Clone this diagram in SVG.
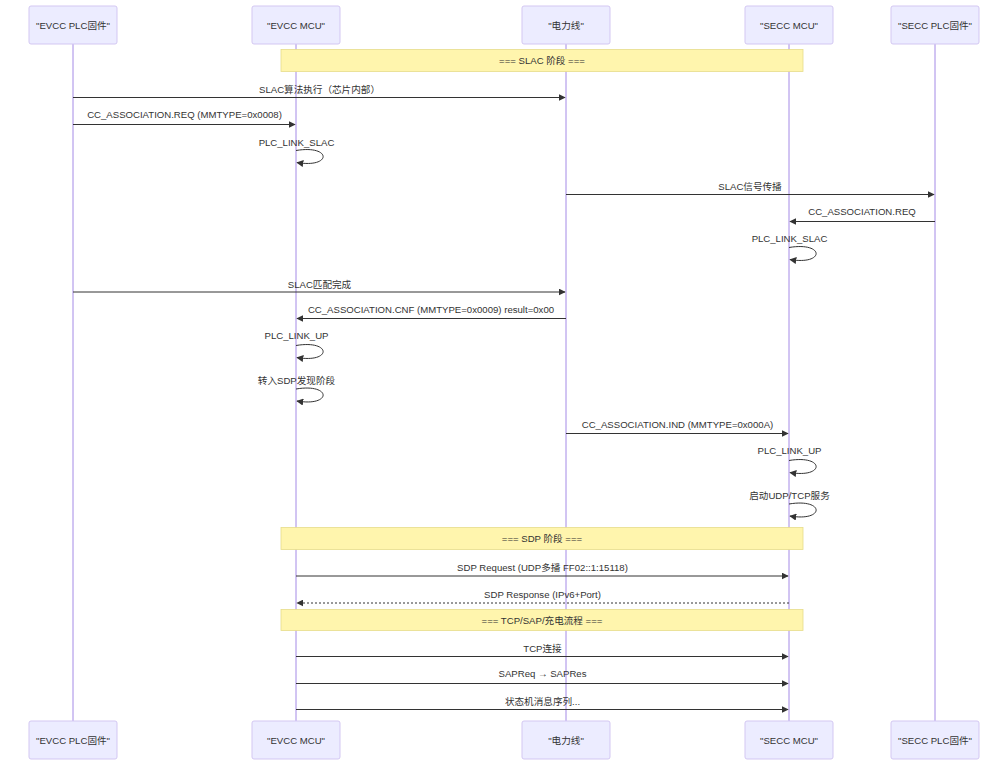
<svg xmlns="http://www.w3.org/2000/svg" width="1008" height="766" viewBox="0 0 1008 766">
<style>
text{font-family:"Liberation Sans","Noto Sans CJK SC",Arial,sans-serif;fill:#333;font-size:9.6px;text-anchor:middle;dominant-baseline:central}
.actor{fill:#ECECFF;stroke:#D3C7F2;stroke-width:1}
.life{stroke:#A48AE6;stroke-width:1}
.msg{stroke:#333;stroke-width:1;fill:none}
.dot{stroke-dasharray:2,2}
.note{fill:#FFF5AD;stroke:#E6DC8A;stroke-width:0.8}
</style>
<defs>
<marker id="ah" markerUnits="userSpaceOnUse" viewBox="0 0 10 10" markerWidth="7" markerHeight="7" refX="9" refY="5" orient="auto">
<path d="M0,0 L10,5 L0,10 z" fill="#333"/>
</marker>
</defs>
<rect width="1008" height="766" fill="#fff"/>
<g id="lifelines">
<line class="life" x1="73" y1="44" x2="73" y2="721"/>
<line class="life" x1="296" y1="44" x2="296" y2="721"/>
<line class="life" x1="566" y1="44" x2="566" y2="721"/>
<line class="life" x1="789" y1="44" x2="789" y2="721"/>
<line class="life" x1="935" y1="44" x2="935" y2="721"/>
</g>
<g id="actor-evcc-plc-top"><rect class="actor" x="29" y="6" width="88" height="38" rx="2"/><text x="73" y="25">"EVCC PLC固件"</text></g>
<g id="actor-evcc-mcu-top"><rect class="actor" x="252" y="6" width="88" height="38" rx="2"/><text x="296" y="25">"EVCC MCU"</text></g>
<g id="actor-powerline-top"><rect class="actor" x="522" y="6" width="88" height="38" rx="2"/><text x="566" y="25">"电力线"</text></g>
<g id="actor-secc-mcu-top"><rect class="actor" x="745" y="6" width="88" height="38" rx="2"/><text x="789" y="25">"SECC MCU"</text></g>
<g id="actor-secc-plc-top"><rect class="actor" x="891" y="6" width="88" height="38" rx="2"/><text x="935" y="25">"SECC PLC固件"</text></g>
<g id="note-slac"><rect class="note" x="281" y="49.5" width="522" height="22"/><text x="542" y="60.5">=== SLAC 阶段 ===</text></g>
<g id="note-sdp"><rect class="note" x="281" y="527.5" width="522" height="22"/><text x="542" y="538.5">=== SDP 阶段 ===</text></g>
<g id="note-tcp"><rect class="note" x="281" y="609.5" width="522" height="21"/><text x="542" y="620">=== TCP/SAP/充电流程 ===</text></g>
<g id="connectors">
<line class="msg" x1="73" y1="97.5" x2="565" y2="97.5" marker-end="url(#ah)"/>
<line class="msg" x1="73" y1="124.5" x2="295" y2="124.5" marker-end="url(#ah)"/>
<path class="msg" d="M296,150.5 C332,144.5 332,168.5 297,162.5" marker-end="url(#ah)"/>
<line class="msg" x1="566" y1="194.5" x2="934" y2="194.5" marker-end="url(#ah)"/>
<line class="msg" x1="935" y1="221.5" x2="790" y2="221.5" marker-end="url(#ah)"/>
<path class="msg" d="M789,247.5 C825,241.5 825,265.5 790,259.5" marker-end="url(#ah)"/>
<line class="msg" x1="73" y1="292" x2="565" y2="292" marker-end="url(#ah)"/>
<line class="msg" x1="566" y1="318.5" x2="297" y2="318.5" marker-end="url(#ah)"/>
<path class="msg" d="M296,345.5 C332,339.5 332,363.5 297,357.5" marker-end="url(#ah)"/>
<path class="msg" d="M296,389 C332,383 332,407 297,401" marker-end="url(#ah)"/>
<line class="msg" x1="566" y1="433.5" x2="788" y2="433.5" marker-end="url(#ah)"/>
<path class="msg" d="M789,460.5 C825,454.5 825,478.5 790,472.5" marker-end="url(#ah)"/>
<path class="msg" d="M789,504 C825,498 825,522 790,516" marker-end="url(#ah)"/>
<line class="msg" x1="296" y1="576" x2="788" y2="576" marker-end="url(#ah)"/>
<line class="msg dot" x1="789" y1="603" x2="297" y2="603" marker-end="url(#ah)"/>
<line class="msg" x1="296" y1="656.5" x2="788" y2="656.5" marker-end="url(#ah)"/>
<line class="msg" x1="296" y1="683.5" x2="788" y2="683.5" marker-end="url(#ah)"/>
<line class="msg" x1="296" y1="709.5" x2="788" y2="709.5" marker-end="url(#ah)"/>
</g>
<g id="labels">
<text x="319.5" y="89">SLAC算法执行（芯片内部）</text>
<text x="184.5" y="114">CC_ASSOCIATION.REQ (MMTYPE=0x0008)</text>
<text x="296.5" y="142">PLC_LINK_SLAC</text>
<text x="750" y="186.5">SLAC信号传播</text>
<text x="862" y="211.5">CC_ASSOCIATION.REQ</text>
<text x="789.5" y="238.5">PLC_LINK_SLAC</text>
<text x="319.5" y="284">SLAC匹配完成</text>
<text x="431" y="309">CC_ASSOCIATION.CNF (MMTYPE=0x0009) result=0x00</text>
<text x="296.5" y="335.5">PLC_LINK_UP</text>
<text x="296.5" y="380.5">转入SDP发现阶段</text>
<text x="677.5" y="424">CC_ASSOCIATION.IND (MMTYPE=0x000A)</text>
<text x="789.5" y="450.5">PLC_LINK_UP</text>
<text x="789.5" y="495.5">启动UDP/TCP服务</text>
<text x="542.5" y="567">SDP Request (UDP多播 FF02::1:15118)</text>
<text x="542.5" y="594">SDP Response (IPv6+Port)</text>
<text x="542.5" y="648.5">TCP连接</text>
<text x="542.5" y="673.5">SAPReq → SAPRes</text>
<text x="542.5" y="701.5">状态机消息序列...</text>
</g>
<g id="actor-evcc-plc-bottom"><rect class="actor" x="29" y="721" width="88" height="38" rx="2"/><text x="73" y="740">"EVCC PLC固件"</text></g>
<g id="actor-evcc-mcu-bottom"><rect class="actor" x="252" y="721" width="88" height="38" rx="2"/><text x="296" y="740">"EVCC MCU"</text></g>
<g id="actor-powerline-bottom"><rect class="actor" x="522" y="721" width="88" height="38" rx="2"/><text x="566" y="740">"电力线"</text></g>
<g id="actor-secc-mcu-bottom"><rect class="actor" x="745" y="721" width="88" height="38" rx="2"/><text x="789" y="740">"SECC MCU"</text></g>
<g id="actor-secc-plc-bottom"><rect class="actor" x="891" y="721" width="88" height="38" rx="2"/><text x="935" y="740">"SECC PLC固件"</text></g>
</svg>
